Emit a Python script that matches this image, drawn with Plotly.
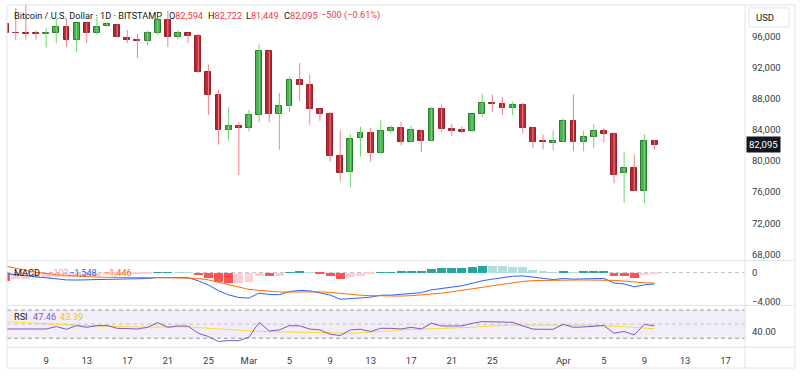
import plotly.graph_objects as go
import pandas as pd

# ---------------- data ----------------
dates = pd.date_range("2025-02-05", "2025-04-10", freq="D").strftime("%Y-%m-%d").tolist()

opens = [97650, 96450, 96400, 96400, 96300, 96400, 97250, 95600, 97700, 96400,
         97350, 97500, 95850, 95600, 95400, 96400, 98100, 95900, 96400, 96050,
         91400, 88450, 84000, 84500, 84200, 85950, 94100, 86100, 87050, 90450,
         89800, 86650, 86100, 80700, 78600, 82900, 83550, 81050, 83900, 84250,
         82500, 83850, 82600, 86700, 84100, 83950, 83800, 86000, 87500, 87350,
         86850, 87150, 84300, 82600, 82350, 82500, 85100, 82400, 83100, 83850,
         83450, 78400, 79150, 76200, 82594]
highs = [97800, 99700, 100100, 96750, 97100, 98300, 98300, 97750, 97800, 98500,
         97800, 97550, 96850, 96350, 96750, 98150, 99300, 96850, 96450, 96350,
         92400, 89150, 86950, 85000, 86550, 95000, 94150, 88750, 90850, 92600,
         91150, 86700, 86300, 83950, 83450, 84400, 84250, 85250, 84600, 85000,
         84550, 83900, 86950, 87250, 84750, 84450, 86050, 88650, 88550, 88250,
         87650, 87500, 84350, 83400, 83900, 85450, 88550, 83900, 84700, 84200,
         83700, 81150, 80800, 83450, 82722]
lows = [96300, 95500, 95600, 95600, 94600, 95100, 94700, 94000, 95150, 96200,
        97200, 95850, 95150, 93250, 94850, 96200, 94650, 95600, 95150, 91300,
        85900, 82100, 82550, 78200, 83800, 85000, 85000, 81450, 86300, 87700,
        84650, 85150, 79950, 77450, 76600, 80600, 79900, 80850, 83600, 82000,
        82450, 81150, 82500, 83700, 83250, 83600, 83700, 85600, 86300, 85900,
        85900, 83550, 81650, 81500, 81350, 82400, 81250, 81250, 81650, 82400,
        77150, 74600, 76150, 74600, 81449]
closes = [96400, 96400, 96350, 96350, 96400, 97250, 95500, 97700, 96400, 97250,
          97550, 95900, 95600, 95400, 96400, 98100, 95900, 96400, 96050, 91400,
          88450, 83950, 84500, 84200, 85950, 94100, 86100, 87050, 90450, 89800,
          86650, 86100, 80650, 78500, 82850, 83550, 81050, 83850, 84250, 82500,
          83950, 82600, 86700, 84100, 83900, 83750, 86000, 87400, 87350, 86850,
          87150, 84300, 82500, 82400, 82600, 85100, 82400, 83100, 83850, 83450,
          78250, 79150, 76200, 82594, 82095]

macd_line = [-150, -300, -480, -650, -800, -900, -1000, -1020, -1000, -960,
             -920, -900, -880, -850, -815, -680, -665, -685, -700, -1130,
             -1700, -2480, -3050, -3400, -3480, -2800, -3000, -3010, -2590, -2440,
             -2500, -2780, -3060, -3650, -3590, -3460, -3350, -3100, -3080, -2990,
             -2870, -2740, -2360, -2190, -1980, -1800, -1470, -1120, -900, -700,
             -510, -450, -650, -840, -960, -810, -900, -860, -830, -810,
             -1420, -1560, -1950, -1670, -1548]
signal_line = [900, 560, 280, 40, -150, -290, -400, -490, -560, -610,
               -650, -680, -700, -710, -715, -710, -705, -705, -710, -800,
               -1000, -1300, -1650, -2000, -2300, -2420, -2550, -2650, -2650, -2620,
               -2600, -2630, -2700, -2850, -3000, -3100, -3150, -3180, -3200, -3210,
               -3150, -3060, -2960, -2810, -2620, -2450, -2250, -2020, -1800, -1580,
               -1380, -1210, -1100, -1060, -1050, -1030, -1020, -1010, -1000, -990,
               -1070, -1160, -1300, -1390, -1446]
macd_hist = [-1050, -860, -760, -690, -650, -610, -600, -530, -440, -350,
             -270, -220, -180, -140, -100, 30, 40, 20, 10, -330,
             -700, -1180, -1400, -1400, -1180, -380, -450, -360, 60, 180,
             100, -150, -360, -800, -590, -360, -200, 80, 120, 220,
             280, 320, 600, 620, 640, 650, 780, 900, 900, 880,
             870, 760, 450, 220, 90, 220, 120, 150, 170, 180,
             -350, -400, -650, -280, -102]

rsi = [43.1, 43.1, 43.1, 43.1, 43.1, 46.5, 42.7, 48.0, 45.5, 47.8,
       48.0, 44.1, 43.5, 43.1, 45.5, 52.2, 45.5, 47.4, 47.0, 37.1,
       32.4, 25.3, 26.7, 26.5, 31.4, 52.6, 40.3, 41.8, 47.9, 47.5,
       43.0, 41.8, 35.7, 33.8, 41.8, 42.7, 39.5, 44.1, 44.0, 43.1,
       45.5, 43.2, 51.2, 47.4, 47.4, 47.5, 51.2, 53.6, 53.3, 53.0,
       52.6, 47.4, 43.0, 42.7, 42.7, 49.8, 45.5, 46.0, 47.5, 48.0,
       37.1, 39.5, 34.7, 49.8, 47.46]
rsi_ma = [53.6, 52.7, 51.8, 50.9, 50.0, 49.2, 48.7, 48.2, 47.7, 47.2,
          46.7, 46.2, 45.8, 45.6, 45.7, 45.9, 46.1, 46.3, 46.3, 45.0,
          44.0, 43.0, 42.0, 40.8, 39.8, 39.6, 39.3, 39.0, 38.8, 38.6,
          38.4, 38.2, 37.9, 37.5, 37.2, 37.8, 38.8, 40.0, 41.0, 42.2,
          42.6, 43.0, 43.5, 43.8, 44.0, 44.3, 45.5, 46.7, 47.6, 48.2,
          48.5, 48.6, 48.7, 48.8, 48.8, 48.8, 48.7, 48.5, 48.3, 48.0,
          47.2, 46.4, 45.5, 44.4, 43.39]

price_ticks = [68000, 72000, 76000, 80000, 84000, 88000, 92000, 96000]
date_tickvals = ["2025-02-09", "2025-02-13", "2025-02-17", "2025-02-21", "2025-02-25",
                 "2025-03-01", "2025-03-05", "2025-03-09", "2025-03-13", "2025-03-17",
                 "2025-03-21", "2025-03-25", "2025-04-01", "2025-04-05", "2025-04-09",
                 "2025-04-13", "2025-04-17"]
date_ticktext = ["9", "13", "17", "21", "25", "Mar", "5", "9", "13", "17",
                 "21", "25", "Apr", "5", "9", "13", "17"]

# ---------------- styling helpers ----------------
W, H = 800, 380
FONT = "Roboto"
TXT = "#131722"
GRID = "#e0e3eb"
DAY_MS = 86400000


def px(x):
    return x / W


def py(y):
    return 1 - y / H


UP_FILL, UP_LINE, UP_WICK = "#4caf50", "#2b7a2f", "#6fd66f"
DN_FILL, DN_LINE, DN_WICK = "#b22833", "#9a1f2a", "#f08088"

X_DOM = [px(7), px(745)]
x0_day = 5.6
day_px = 10.14
start = pd.Timestamp(dates[0]) + pd.Timedelta(days=(7 - x0_day) / day_px)
end = pd.Timestamp(dates[0]) + pd.Timedelta(days=(745 - x0_day) / day_px)

fig = go.Figure()

# wicks
for up in (True, False):
    wx, wy = [], []
    for d, o, h, l, c in zip(dates, opens, highs, lows, closes):
        if (c >= o) == up:
            wx += [d, d, None]
            wy += [l, h, None]
    fig.add_trace(go.Scatter(x=wx, y=wy, mode="lines",
                             line=dict(color=UP_WICK if up else DN_WICK, width=1),
                             hoverinfo="skip", xaxis="x", yaxis="y"))

# bodies
fig.add_trace(go.Bar(
    x=dates,
    y=[abs(c - o) for o, c in zip(opens, closes)],
    base=[min(o, c) for o, c in zip(opens, closes)],
    width=0.58 * DAY_MS,
    marker=dict(color=[UP_FILL if c >= o else DN_FILL for o, c in zip(opens, closes)],
                line=dict(color=[UP_LINE if c >= o else DN_LINE for o, c in zip(opens, closes)],
                          width=1)),
    xaxis="x", yaxis="y"))

# MACD histogram
hist_colors = []
prev = None
for v in macd_hist:
    if v >= 0:
        hist_colors.append("#26a69a" if (prev is None or v > prev) else "#b2dfdb")
    else:
        hist_colors.append("#ff5252" if (prev is None or v < prev) else "#ffcdd2")
    prev = v
fig.add_trace(go.Bar(x=dates, y=macd_hist, width=0.88 * DAY_MS,
                     marker=dict(color=hist_colors, line=dict(width=0)),
                     xaxis="x2", yaxis="y2"))
fig.add_trace(go.Scatter(x=dates, y=macd_line, mode="lines",
                         line=dict(color="#2962ff", width=1), xaxis="x2", yaxis="y2"))
fig.add_trace(go.Scatter(x=dates, y=signal_line, mode="lines",
                         line=dict(color="#ff6d00", width=1), xaxis="x2", yaxis="y2"))

# RSI
fig.add_trace(go.Scatter(x=dates, y=rsi_ma, mode="lines",
                         line=dict(color="#fdd835", width=1), xaxis="x3", yaxis="y3"))
fig.add_trace(go.Scatter(x=dates, y=rsi, mode="lines",
                         line=dict(color="#7e57c2", width=1), xaxis="x3", yaxis="y3"))

axis_font = dict(family=FONT, size=9.5, color="#363a45")

fig.update_layout(
    width=W, height=H, margin=dict(l=0, r=0, t=0, b=0),
    paper_bgcolor="white", plot_bgcolor="white", showlegend=False,
    barmode="overlay", bargap=0,
    font=dict(family=FONT, size=9.5, color=TXT),
    xaxis=dict(domain=X_DOM, type="date", range=[start, end], anchor="y",
               showticklabels=False, showgrid=False, zeroline=False, showline=False),
    xaxis2=dict(domain=X_DOM, type="date", matches="x", anchor="y2",
                showticklabels=False, showgrid=False, zeroline=False),
    xaxis3=dict(domain=X_DOM, type="date", matches="x", anchor="y3",
                tickvals=date_tickvals, ticktext=date_ticktext, ticks="",
                ticklabelstandoff=6, tickfont=axis_font,
                showgrid=False, zeroline=False),
    yaxis=dict(domain=[py(262), py(5)], range=[67195, 100053], side="right", anchor="x",
               tickvals=price_ticks, tickformat=",", ticks="", ticklabelstandoff=6,
               tickfont=axis_font, showgrid=False, zeroline=False),
    yaxis2=dict(domain=[py(307), py(262)], range=[-4478, 1628], side="right", anchor="x2",
                tickvals=[0, -4000], ticktext=["0", "\u22124,000"], ticks="",
                ticklabelstandoff=6, tickfont=axis_font, showgrid=False, zeroline=False),
    yaxis3=dict(domain=[py(349), py(307)], range=[17.28, 76.64], side="right", anchor="x3",
                tickvals=[40], ticktext=["40.00"], ticks="", ticklabelstandoff=6,
                tickfont=axis_font, showgrid=False, zeroline=False),
)

shapes = []
# RSI band and levels
shapes.append(dict(type="rect", xref="x3 domain", yref="y3", x0=0, x1=1, y0=30, y1=70,
                   fillcolor="rgba(126,87,194,0.1)", line=dict(width=0), layer="below"))
for lvl, col in ((70, "#9598a1"), (50, "#c3c5cc"), (30, "#9598a1")):
    shapes.append(dict(type="line", xref="x3 domain", yref="y3", x0=0, x1=1, y0=lvl, y1=lvl,
                       line=dict(color=col, width=1, dash="4px,3px"), layer="below"))
shapes.append(dict(type="line", xref="x2 domain", yref="y2", x0=0, x1=1, y0=0, y1=0,
                   line=dict(color="#c3c5cc", width=1, dash="4px,3px"), layer="below"))
# frame / pane separators
for yy in (5, 262, 307, 349, 370):
    shapes.append(dict(type="line", xref="paper", yref="paper", x0=px(7), x1=px(795),
                       y0=py(yy), y1=py(yy), line=dict(color=GRID, width=1)))
for xx in (7, 745, 795):
    shapes.append(dict(type="line", xref="paper", yref="paper", x0=px(xx), x1=px(xx),
                       y0=py(5), y1=py(370), line=dict(color=GRID, width=1)))
# USD box
shapes.append(dict(type="rect", xref="paper", yref="paper", x0=px(749), x1=px(789),
                   y0=py(27), y1=py(8), line=dict(color=GRID, width=1), fillcolor="white"))
fig.update_layout(shapes=shapes)

RED = "#f23645"
HEAD = 9.2
ann = []


def label(x, y, text, color=TXT, size=9.5):
    ann.append(dict(xref="paper", yref="paper", x=px(x), y=py(y), text=text,
                    showarrow=False, xanchor="left", yanchor="middle",
                    font=dict(family=FONT, size=size, color=color)))


label(12, 15.5, "Bitcoin / U.S. Dollar \u00b7 1D \u00b7 BITSTAMP", TXT, HEAD)
label(167, 15.5, "O<span style='color:%s'>82,594</span>" % RED, TXT, HEAD)
label(206, 15.5, "H<span style='color:%s'>82,722</span>" % RED, TXT, HEAD)
label(244, 15.5, "L<span style='color:%s'>81,449</span>" % RED, TXT, HEAD)
label(282, 15.5, "C<span style='color:%s'>82,095</span>" % RED, TXT, HEAD)
label(319, 15.5, "\u2212500 (\u22120.61%)", RED, HEAD)

label(12, 274, "MACD", TXT, HEAD)
label(46, 274, "\u2212102", "#f5a3ab", HEAD)
label(67, 274, "\u22121,548", "#2962ff", HEAD)
label(102, 274, "\u22121,446", "#ff6d00", HEAD)

label(12, 318, "RSI", TXT, HEAD)
label(31, 318, "47.46", "#7e57c2", HEAD)
label(58, 318, "43.39", "#f2c40f", HEAD)

label(754, 17.5, "USD", TXT, 9.5)

ann.append(dict(xref="paper", yref="y", x=px(746), y=closes[-1], text="82,095",
                showarrow=False, xanchor="left", yanchor="middle", bgcolor="#131722",
                borderpad=2, font=dict(family=FONT, size=9.5, color="white")))
fig.update_layout(annotations=ann)

fig.write_html("out.html", config={"displayModeBar": False},
               post_script="document.body.style.margin='0';document.body.style.padding='0';")
